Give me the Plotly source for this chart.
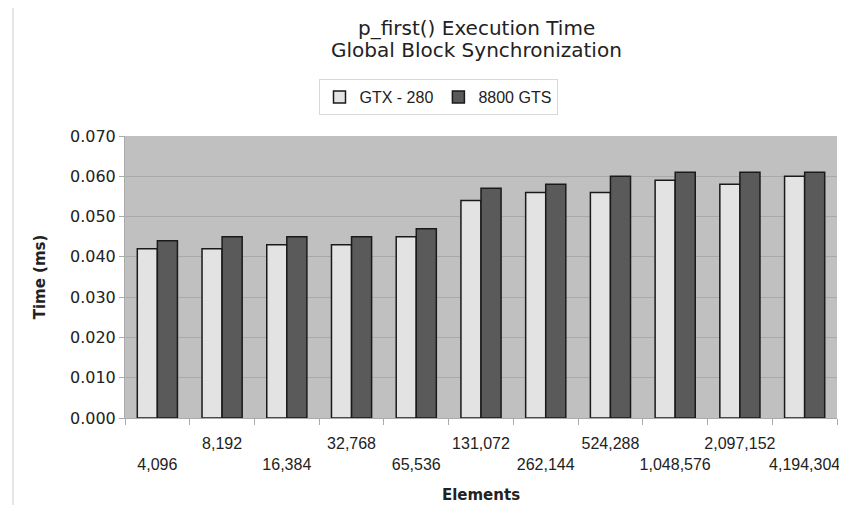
import plotly.graph_objects as go

elements = ["4,096", "8,192", "16,384", "32,768", "65,536", "131,072",
            "262,144", "524,288", "1,048,576", "2,097,152", "4,194,304"]
gtx280 = [0.042, 0.042, 0.043, 0.043, 0.045, 0.054, 0.056, 0.056, 0.059, 0.058, 0.060]
gts8800 = [0.044, 0.045, 0.045, 0.045, 0.047, 0.057, 0.058, 0.060, 0.061, 0.061, 0.061]
title_lines = ["p_first() Execution Time", "Global Block Synchronization"]

ticktext = [("<br>" + e) if i % 2 == 0 else e for i, e in enumerate(elements)]

fig = go.Figure()
fig.add_trace(go.Bar(x=elements, y=gtx280, name="GTX - 280",
                     marker=dict(color="#e3e3e3", line=dict(color="#1a1a1a", width=1.5))))
fig.add_trace(go.Bar(x=elements, y=gts8800, name="8800 GTS",
                     marker=dict(color="#5a5a5a", line=dict(color="#1a1a1a", width=1.5))))

W, H = 839, 497
PL, PR, PT, PB = 117, 829, 128, 410
PW, PH = PR - PL, PB - PT


def px(fx):
    return (fx - PL) / PW


def py(fy):
    return (PB - fy) / PH


annotations = [
    dict(text=title_lines[0], x=px(468), y=py(20), xref="paper", yref="paper",
         xanchor="center", yanchor="middle", showarrow=False,
         font=dict(size=20, color="#222222", family="DejaVu Sans")),
    dict(text=title_lines[1], x=px(468), y=py(42), xref="paper", yref="paper",
         xanchor="center", yanchor="middle", showarrow=False,
         font=dict(size=20, color="#222222", family="DejaVu Sans")),
]

fig.update_layout(
    width=W, height=H,
    margin=dict(l=PL, r=W - PR, t=PT, b=H - PB, autoexpand=False),
    paper_bgcolor="white", plot_bgcolor="#c0c0c0",
    font=dict(family="DejaVu Sans", color="#222222", size=13),
    barmode="group", bargap=0.38, bargroupgap=0.0,
    showlegend=True,
    legend=dict(orientation="h", x=px(430), xanchor="center",
                y=py(89), yanchor="middle", bordercolor="#d8d8d8", borderwidth=1,
                font=dict(size=16, family="Liberation Sans"), itemwidth=30,
                tracegroupgap=0),
    annotations=annotations,
    xaxis=dict(type="category", tickmode="array", tickvals=elements, ticktext=ticktext,
               tickangle=0, automargin=False, ticklabelstandoff=11,
               ticks="outside", ticklen=6, tickcolor="#aaaaaa", tickson="boundaries",
               showline=True, linecolor="#aaaaaa", linewidth=1,
               tickfont=dict(size=16, family="Liberation Sans", color="#222222"),
               title=dict(text="<b>Elements</b>", font=dict(size=15), standoff=17)),
    yaxis=dict(range=[0, 0.070], dtick=0.010, tickformat=".3f", automargin=False,
               ticks="outside", ticklen=5, tickcolor="#aaaaaa",
               showline=True, linecolor="#aaaaaa", gridcolor="#a9a9a9", gridwidth=1.2,
               tickfont=dict(size=16, family="DejaVu Sans", color="#222222"),
               title=dict(text="<b>Time (ms)</b>", font=dict(size=15), standoff=20),
               zeroline=False),
    shapes=[dict(type="line", xref="paper", yref="paper",
                 x0=px(5), x1=px(5), y0=py(H + 10), y1=py(-10),
                 line=dict(color="#cccccc", width=1))],
)
fig.write_html("out.html")
